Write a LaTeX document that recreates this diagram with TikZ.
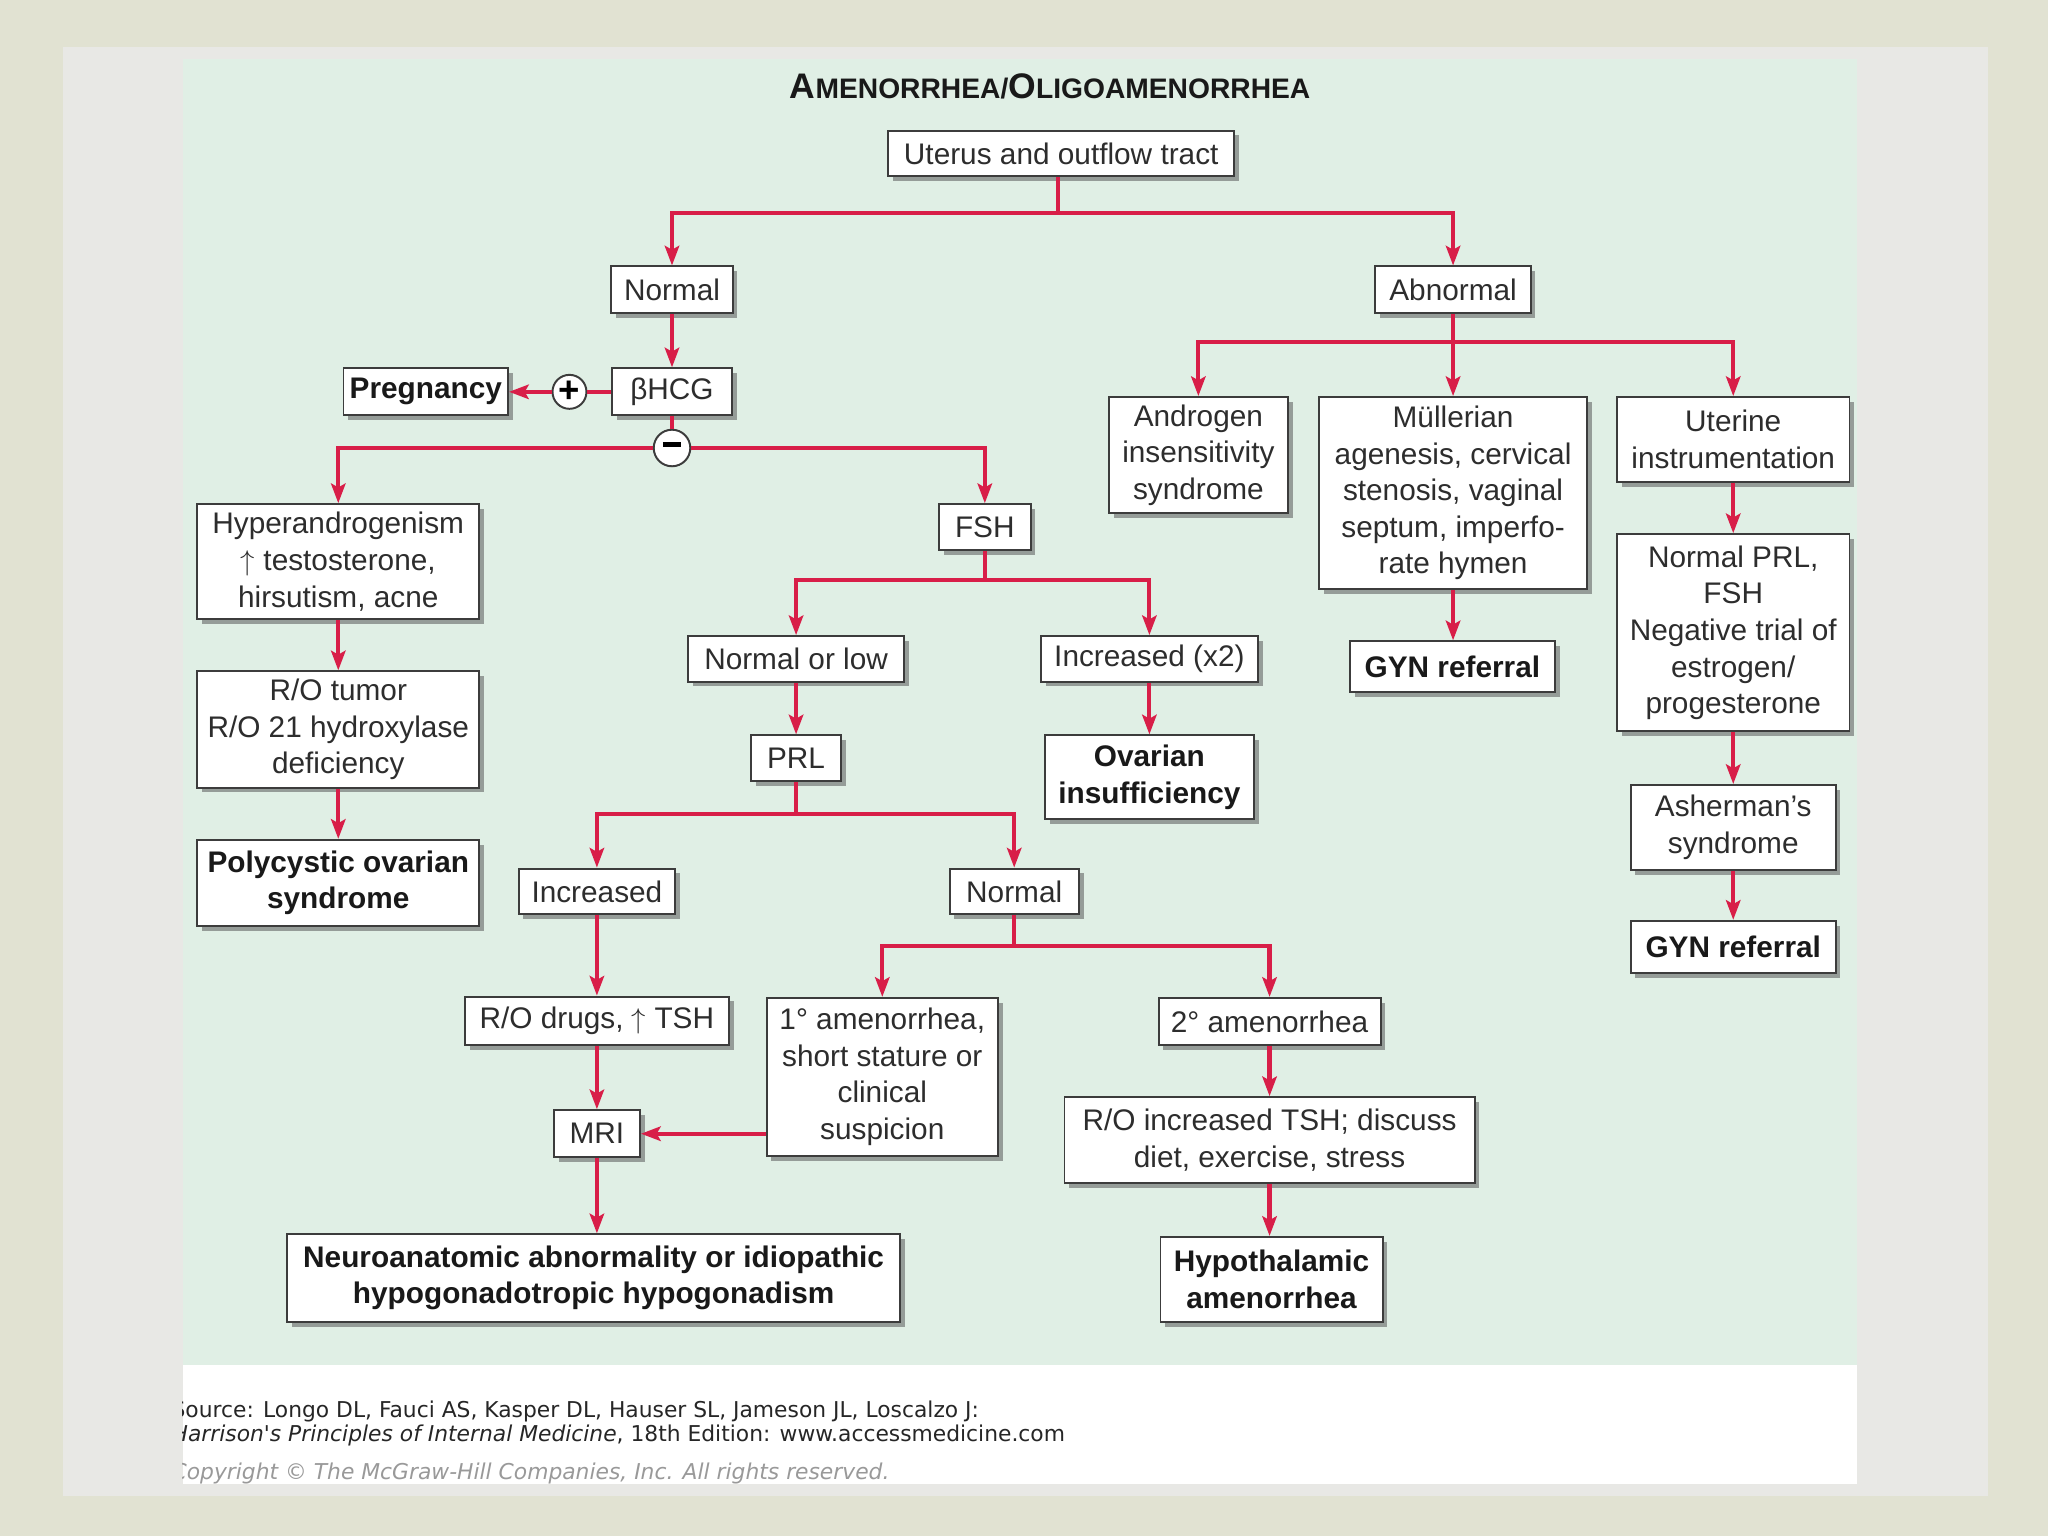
\documentclass[tikz,border=0pt]{standalone}
\usepackage{fontspec}
\setmainfont{Liberation Sans}
\newfontfamily\footfont{DejaVu Sans}
\usetikzlibrary{arrows.meta,shadows}
\definecolor{outerbg}{RGB}{225,226,210}
\definecolor{slidebg}{RGB}{232,232,229}
\definecolor{panelbg}{RGB}{224,239,229}
\definecolor{redline}{RGB}{216,30,72}
\definecolor{boxline}{RGB}{60,60,60}
\definecolor{boxtext}{RGB}{45,45,45}
\newcommand\bxfont{\fontsize{11.4}{14}\selectfont}
\newcommand\bxbold{\fontsize{11.4}{14}\selectfont\bfseries}
\newcommand\ftfont{\footfont\fontsize{8.35}{9}\selectfont}
\tikzset{
  box/.style={draw=boxline, line width=0.75pt, fill=white, align=center, inner sep=0pt,
    text=boxtext, font=\bxfont,
    drop shadow={shadow xshift=1.8pt, shadow yshift=-1.8pt, fill=black!65, opacity=0.55}},
  bbox/.style={box, text=black!90, font=\bxbold},
  circ/.style={circle, draw=boxline, line width=0.75pt, fill=white, inner sep=0pt},
  conn/.style={draw=redline, line width=1.6pt},
  arr/.style={conn, -{Stealth[length=7.5pt,width=5.5pt,inset=1.5pt]}},
  foot/.style={anchor=base west, inner sep=0pt, font=\ftfont, text=black!85}
}
\begin{document}
\begin{tikzpicture}[x=0.5pt,y=-0.5pt]
\useasboundingbox (0,0) rectangle (1568,1176);
% backgrounds
\fill[outerbg] (0,0) rectangle (1568,1176);
\fill[slidebg] (48,36) rectangle (1522,1145);
\fill[panelbg] (140,45) rectangle (1422,1045);
\fill[white] (140,1045) rectangle (1422,1136);

% title
\node[inner sep=0pt, text=black!90] (title) at (804,66) {\bfseries\fontsize{13.6}{14}\selectfont A\fontsize{10.8}{14}\selectfont MENORRHEA/\fontsize{13.6}{14}\selectfont O\fontsize{10.8}{14}\selectfont LIGOAMENORRHEA};

% nodes
\node[box, minimum width=132.5pt, minimum height=17.5pt] (uterus) at (812.5,117.5) {Uterus and outflow tract};
\node[box, minimum width=46.5pt, minimum height=18pt] (normal) at (514.5,222) {Normal};
\node[box, minimum width=59.5pt, minimum height=18pt] (abnormal) at (1112.5,222) {Abnormal};
\node[box, minimum width=46pt, minimum height=18pt] (bhcg) at (514.5,300) {βHCG};
\node[bbox, minimum width=63pt, minimum height=18pt] (preg) at (326,300) {Pregnancy};
\node[circ, minimum size=13pt] (plus) at (436,300) {\fontsize{14}{14}\selectfont\bfseries +};
\node[circ, minimum size=14pt] (minus) at (514.5,343) {\rule[2.6pt]{7pt}{2.2pt}};
\node[box, minimum width=108pt, minimum height=44pt] (hyper) at (259,430) {Hyperandrogenism\\$\uparrow$ testosterone,\\hirsutism, acne};
\node[box, minimum width=35pt, minimum height=17.5pt] (fsh) at (754,403.5) {FSH};
\node[box, minimum width=82.5pt, minimum height=17.5pt] (normlow) at (609.5,504.5) {Normal or low};
\node[box, minimum width=83pt, minimum height=17.5pt] (incx2) at (880,504.5) {Increased (x2)};
\node[box, minimum width=34.5pt, minimum height=17.5pt] (prl) at (609.5,580.5) {PRL};
\node[bbox, minimum width=80pt, minimum height=32pt] (ovarian) at (880,595) {Ovarian\\insufficiency};
\node[box, minimum width=108pt, minimum height=44.5pt] (rotumor) at (259,558.5) {R/O tumor\\R/O 21 hydroxylase\\deficiency};
\node[bbox, minimum width=108pt, minimum height=33pt] (pcos) at (259,676) {Polycystic ovarian\\syndrome};
\node[box, minimum width=60pt, minimum height=17.5pt] (incr) at (457,682.5) {Increased};
\node[box, minimum width=49.5pt, minimum height=17.5pt] (norm2) at (776.5,682.5) {Normal};
\node[box, minimum width=101pt, minimum height=18.5pt] (rodrugs) at (457,781.5) {R/O drugs, $\uparrow$ TSH};
\node[box, minimum width=88.5pt, minimum height=60.5pt] (prim) at (675.5,824.5) {1° amenorrhea,\\short stature or\\clinical\\suspicion};
\node[box, minimum width=85pt, minimum height=18pt] (sec) at (972,782) {2° amenorrhea};
\node[box, minimum width=33pt, minimum height=18pt] (mri) at (457,868) {MRI};
\node[box, minimum width=157pt, minimum height=33pt] (rotsh) at (972,873) {R/O increased TSH; discuss\\diet, exercise, stress};
\node[bbox, minimum width=234.5pt, minimum height=33.5pt] (neuro) at (454.5,978.5) {Neuroanatomic abnormality or idiopathic\\hypogonadotropic hypogonadism};
\node[bbox, minimum width=85pt, minimum height=32.5pt] (hypo) at (973.5,979.5) {Hypothalamic\\amenorrhea};
\node[box, minimum width=68.5pt, minimum height=44.5pt] (andro) at (917.5,348.5) {Androgen\\insensitivity\\syndrome};
\node[box, minimum width=102.5pt, minimum height=73.5pt] (mull) at (1112.5,377.5) {Müllerian\\agenesis, cervical\\stenosis, vaginal\\septum, imperfo-\\rate hymen};
\node[box, minimum width=89pt, minimum height=32.5pt] (uterine) at (1327,336.5) {Uterine\\instrumentation};
\node[bbox, minimum width=78.5pt, minimum height=19.5pt] (gyn1) at (1112,510.5) {GYN referral};
\node[box, minimum width=89pt, minimum height=75.5pt] (normprl) at (1327,484.5) {Normal PRL,\\FSH\\Negative trial of\\estrogen/\\progesterone};
\node[box, minimum width=78.5pt, minimum height=32.5pt] (asher) at (1327,633.5) {Asherman's\\syndrome};
\node[bbox, minimum width=78.5pt, minimum height=20pt] (gyn2) at (1327,725) {GYN referral};

% connectors
\coordinate (j1) at (810,163);
\draw[conn] (uterus.south -| j1) -- (j1);
\draw[arr] (j1) -| (normal);
\draw[arr] (j1) -| (abnormal);
\draw[arr] (normal) -- (bhcg);
\draw[conn] (bhcg) -- (plus);
\draw[arr] (plus) -- (preg);
\draw[conn] (bhcg) -- (minus);
\draw[arr] (minus) -| (hyper);
\draw[arr] (minus) -| (fsh);
\draw[arr] (hyper) -- (rotumor);
\draw[arr] (rotumor) -- (pcos);
\coordinate (j3) at (754,444);
\draw[conn] (fsh) -- (j3);
\draw[arr] (j3) -| (normlow);
\draw[arr] (j3) -| (incx2);
\draw[arr] (normlow) -- (prl);
\draw[arr] (incx2) -- (ovarian);
\coordinate (j4) at (609.5,623);
\draw[conn] (prl) -- (j4);
\draw[arr] (j4) -| (incr);
\draw[arr] (j4) -| (norm2);
\draw[arr] (incr) -- (rodrugs);
\draw[arr] (rodrugs) -- (mri);
\draw[arr] (mri.south) -- (mri.south |- neuro.north);
\coordinate (j5) at (776.5,724);
\draw[conn] (norm2) -- (j5);
\draw[arr] (j5) -| (prim);
\draw[arr] (j5) -| (sec);
\draw[arr] (prim.west |- mri.east) -- (mri.east);
\draw[arr] (sec) -- (rotsh);
\draw[arr] (rotsh.south) -- (rotsh.south |- hypo.north);
\coordinate (j2) at (1112.5,262);
\draw[conn] (abnormal) -- (j2);
\draw[arr] (j2) -| (andro);
\draw[arr] (j2) -- (mull);
\draw[arr] (j2) -| (uterine);
\draw[arr] (mull.south) -- (mull.south |- gyn1.north);
\draw[arr] (uterine) -- (normprl);
\draw[arr] (normprl) -- (asher);
\draw[arr] (asher) -- (gyn2);

% footer
\begin{scope}
\clip (140,1045) rectangle (1422,1136);
\node[foot] (src1) at (131,1085) {Source: Longo DL, Fauci AS, Kasper DL, Hauser SL, Jameson JL, Loscalzo J:};
\node[foot] (src2) at (131,1104) {\textit{Harrison's Principles of Internal Medicine}, 18th Edition: www.accessmedicine.com};
\node[foot, text=black!40] (src3) at (131,1133) {\textit{Copyright © The McGraw-Hill Companies, Inc. All rights reserved.}};
\end{scope}
\end{tikzpicture}
\end{document}
